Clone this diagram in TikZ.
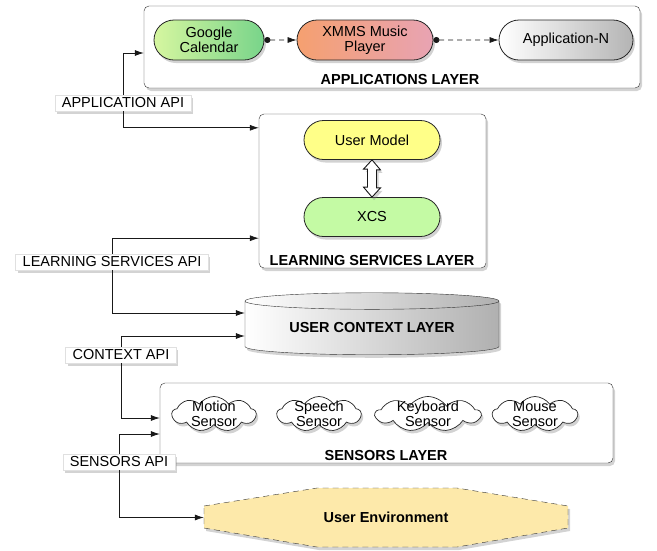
\documentclass[tikz,border=0pt]{standalone}
\usepackage{fontspec}
\setmainfont{Liberation Sans}
\usetikzlibrary{arrows.meta,shapes.misc,shapes.geometric,shapes.symbols,shadows}

\definecolor{gcalL}{HTML}{D6F6A0}
\definecolor{gcalR}{HTML}{78D48A}
\definecolor{xmmsL}{HTML}{F5A070}
\definecolor{xmmsR}{HTML}{E8A3B3}
\definecolor{appnR}{HTML}{B4B4B4}
\definecolor{umodel}{HTML}{FFFF88}
\definecolor{xcsfill}{HTML}{C4FAA4}
\definecolor{ctxR}{HTML}{B0B0B0}
\definecolor{envfill}{HTML}{FDE9AA}

\begin{document}
\begin{tikzpicture}[
        x=1pt, y=-1pt,
        >={Latex[length=9pt,width=6pt]},
        font=\fontsize{14.5}{15}\selectfont,
        every node/.style={align=center, inner sep=0pt},
        dropshade/.style={drop shadow={opacity=0.35, shadow xshift=2pt, shadow yshift=-3pt}},
        laybox/.style={draw=black!80, rectangle, rounded corners=5pt, fill=white, dropshade},
        laytitle/.style={font=\fontsize{14.5}{15}\selectfont\bfseries},
        app/.style={draw=black!85, line width=0.8pt, rounded rectangle, minimum height=40pt, dropshade},
        sensor/.style={draw=black!85, line width=0.7pt, cloud, cloud puffs=9, cloud puff arc=110, cloud ignores aspect,
            fill=white, minimum height=35pt, dropshade},
        api/.style={fill=white, draw=black!12, inner xsep=7pt, minimum height=16pt, dropshade},
        link/.style={line width=0.7pt, black!90}
    ]
    \useasboundingbox (0,0) rectangle (657,550);

    % applications layer
    \node[laybox, minimum width=496pt, minimum height=82pt] (applayer) at (392,47) {};
    \node[laytitle] (apptitle) at (400,80) {APPLICATIONS LAYER};
    \node[app, left color=gcalL, right color=gcalR, minimum width=110pt] (gcal) at (209,40) {Google\\Calendar};
    \node[app, left color=xmmsL, right color=xmmsR, minimum width=136pt] (xmms) at (365,40) {XMMS Music\\Player};
    \node[app, left color=white, right color=appnR, minimum width=134pt] (appn) at (566,40) {Application-N};

    \draw[link, {Circle[length=6pt]}->, dash pattern=on 5pt off 4pt] (gcal) -- (xmms);
    \draw[link, {Circle[length=6pt]}->, dash pattern=on 5pt off 4pt] (xmms) -- (appn);

    % learning services layer
    \node[laybox, minimum width=227pt, minimum height=154pt] (learn) at (372.5,191) {};
    \node[laytitle] (learntitle) at (372,261) {LEARNING SERVICES LAYER};
    \node[app, fill=umodel, minimum width=136pt, minimum height=39pt] (umod) at (372,140) {User Model};
    \node[app, fill=xcsfill, minimum width=136pt, minimum height=39pt] (xcs) at (372,217) {XCS};
    % fat two-way arrow
    \filldraw[draw=black!90, line width=0.9pt, fill=white, line join=miter, dropshade]
        (umod.south) -- ++(8.5,10) -- ++(-4,0) -- ++(0,18) -- ++(4,0) -- (xcs.north)
        -- ++(-8.5,-10) -- ++(4,0) -- ++(0,-18) -- ++(-4,0) -- cycle;

    % user context layer
    \node[cylinder, shape border rotate=90, draw=black!80, aspect=0.1, left color=white, right color=ctxR,
        minimum width=254pt, minimum height=62pt, dropshade, laytitle] (ctx) at (372,328) {USER CONTEXT LAYER};

    % sensors layer
    \node[laybox, minimum width=453pt, minimum height=80pt] (sensors) at (386.5,423) {};
    \node[laytitle] (senstitle) at (386,456) {SENSORS LAYER};
    \node[sensor, minimum width=84pt, label={center:Motion\\Sensor}] (motion) at (214,414) {};
    \node[sensor, minimum width=84pt, label={center:Speech\\Sensor}] (speech) at (319,414) {};
    \node[sensor, minimum width=105pt, label={center:Keyboard\\Sensor}] (keyb) at (428,414) {};
    \node[sensor, minimum width=85pt, label={center:Mouse\\Sensor}] (mouse) at (535,414) {};

    % user environment
    \filldraw[draw=black!80, fill=envfill, dash pattern=on 6pt off 4pt, dropshade]
        (204,506) -- (317,488) -- (457,488) -- (568,506) -- (568,528) -- (457,547) -- (317,547) -- (204,528) -- cycle;
    \node[laytitle, minimum width=364pt, minimum height=59pt] (env) at (386,517.5) {User Environment};

    % APIs
    \node[api] (appapi) at (123,103) {APPLICATION API};
    \node[api] (lsapi) at (112,262) {LEARNING SERVICES API};
    \node[api] (ctxapi) at (121,355) {CONTEXT API};
    \node[api] (sensapi) at (119,462) {SENSORS API};

    \draw[link, ->] (appapi.north) |- ([yshift=-6pt]applayer.west);
    \draw[link, ->] (appapi.south) |- ([yshift=-14pt]learn.north west);
    \draw[link, ->] (lsapi.north) |- ([yshift=30pt]learn.south west);
    \draw[link, ->] (lsapi.south) |- ([yshift=15pt]ctx.west);
    \draw[link, ->] (ctxapi.north) |- ([yshift=-8pt]ctx.west);
    \draw[link, ->] (ctxapi.south) |- ([yshift=5pt]sensors.west);
    \draw[link, ->] (sensapi.north) |- ([yshift=-11pt]sensors.west);
    \draw[link, ->] (sensapi.south) |- (env.west);
\end{tikzpicture}
\end{document}
